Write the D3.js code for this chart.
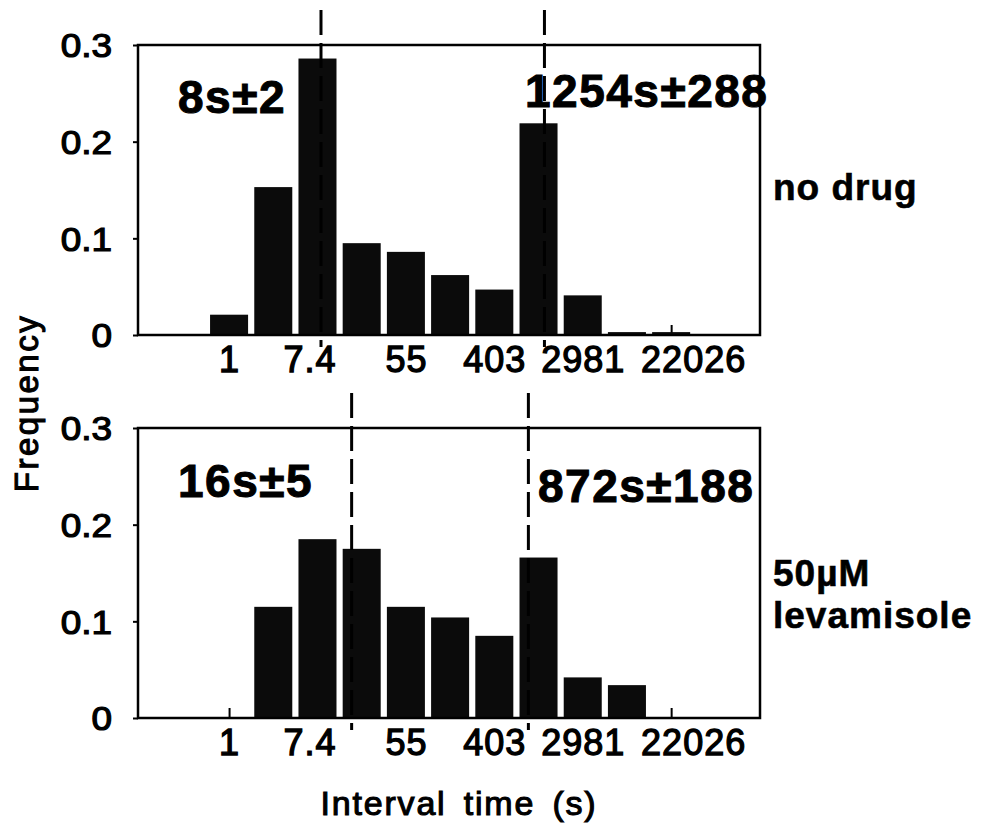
<!DOCTYPE html>
<html>
<head>
<meta charset="utf-8">
<script src="https://cdn.jsdelivr.net/npm/d3@7"></script>
<style>
  body { margin: 0; background: #fff; }
  svg { display: block; font-family: "Liberation Sans", Arial, Helvetica, sans-serif; }
</style>
</head>
<body>
<div id="chart-area"></div>
<script>
// histogram bins in natural-log units (bin k is centred on e^k seconds)
const bins = [0, 1, 2, 3, 4, 5, 6, 7, 8, 9, 10]
const noDrug = [0.021, 0.153, 0.286, 0.095, 0.086, 0.062, 0.047, 0.219, 0.041, 0.003, 0.003]
const levamisole = [0, 0.115, 0.185, 0.175, 0.115, 0.104, 0.085, 0.166, 0.042, 0.034, 0]

// mean interval of the two populations (s)
const noDrugMeans = [8, 1254]
const levamisoleMeans = [16, 872]
const noDrugNotes = ["8s±2", "1254s±288"]
const levamisoleNotes = ["16s±5", "872s±188"]

const xTickValues = [1, 7.389, 54.6, 403.4, 2981, 22026]
const xTickLabels = ["1", "7.4", "55", "403", "2981", "22026"]
const yTickValues = [0, 0.1, 0.2, 0.3]
const yTickLabels = ["0", "0.1", "0.2", "0.3"]

const WIDTH = 989, HEIGHT = 836
const LEFT = 138, RIGHT = 760, PANEL_H = 290

const svg = d3.select("#chart-area").append("svg")
  .attr("width", WIDTH)
  .attr("height", HEIGHT)

const x = d3.scaleLog()
  .base(Math.E)
  .domain([Math.exp(-2.06), Math.exp(12.01)])
  .range([LEFT, RIGHT])

const y = d3.scaleLinear()
  .domain([0, 0.3])
  .range([PANEL_H, 0])

function drawPanel(top, values, means, notes, notePos, side) {
  const g = svg.append("g").attr("transform", `translate(0, ${top})`)

  // x axis: small inner ticks + labels under the frame
  const xAxisCall = d3.axisBottom(x)
    .tickValues(xTickValues)
    .tickFormat((d, i) => xTickLabels[i])
    .tickSizeInner(-10)
    .tickSizeOuter(0)
    .tickPadding(11)
  const xg = g.append("g")
    .attr("transform", `translate(0, ${PANEL_H})`)
    .call(xAxisCall)
  xg.select(".domain").remove()
  xg.selectAll("line").attr("stroke", "#000").attr("stroke-width", 2)
  xg.selectAll("text")
    .attr("font-size", 36)
    .attr("font-family", null)
    .attr("fill", "#000")
    .attr("stroke", "#000")
    .attr("stroke-width", 1.3)
    .attr("letter-spacing", 1)
    .attr("dx", (d, i) => i === 5 ? 22 : (i === 1 ? -8 : 0))

  // y axis
  const yAxisCall = d3.axisLeft(y)
    .tickValues(yTickValues)
    .tickFormat((d, i) => yTickLabels[i])
    .tickSize(5)
    .tickSizeOuter(0)
  const yg = g.append("g")
    .attr("transform", `translate(${LEFT}, 0)`)
    .call(yAxisCall)
  yg.select(".domain").remove()
  yg.selectAll("line").attr("stroke", "#000").attr("stroke-width", 2)
  yg.selectAll("text")
    .attr("x", 0)
    .attr("dy", "0.36em")
    .attr("transform", "translate(-26, 0) scale(1.12, 1)")
    .attr("font-size", 33)
    .attr("font-family", null)
    .attr("fill", "#000")
    .attr("stroke", "#000")
    .attr("stroke-width", 1.2)

  // bars
  const rows = bins.map((k, i) => ({ k: k, v: values[i] })).filter(d => d.v > 0)
  g.selectAll("rect.bar")
    .data(rows)
    .enter().append("rect")
    .attr("class", "bar")
    .attr("x", d => x(Math.exp(d.k - 0.43)))
    .attr("width", d => x(Math.exp(d.k + 0.43)) - x(Math.exp(d.k - 0.43)))
    .attr("y", d => y(d.v))
    .attr("height", d => PANEL_H - y(d.v))
    .attr("fill", "#0b0b0b")

  // frame
  g.append("rect")
    .attr("x", LEFT)
    .attr("y", 0)
    .attr("width", RIGHT - LEFT)
    .attr("height", PANEL_H)
    .attr("fill", "none")
    .attr("stroke", "#000")
    .attr("stroke-width", 2.5)

  // dashed lines at the means
  g.selectAll("line.mean")
    .data(means)
    .enter().append("line")
    .attr("class", "mean")
    .attr("x1", d => x(d))
    .attr("x2", d => x(d))
    .attr("y1", -35)
    .attr("y2", PANEL_H + 12)
    .attr("stroke", "#000")
    .attr("stroke-width", 3)
    .attr("stroke-dasharray", "25,8")

  // mean +- sd notes
  notes.forEach((t, i) => {
    g.append("text")
      .attr("x", notePos[i][0])
      .attr("y", notePos[i][1])
      .attr("font-size", 46)
      .attr("font-weight", "bold")
      .attr("letter-spacing", 1.5)
      .attr("fill", "#000")
      .attr("stroke", "#000")
      .attr("stroke-width", 1)
      .text(t)
  })

  // condition label on the right
  side.lines.forEach((t, i) => {
    g.append("text")
      .attr("x", 773)
      .attr("y", side.y + i * 42)
      .attr("font-size", 37)
      .attr("font-weight", "bold")
      .attr("letter-spacing", 1)
      .attr("fill", "#000")
      .attr("stroke", "#000")
      .attr("stroke-width", 0.6)
      .text(t)
  })
}

drawPanel(45, noDrug, noDrugMeans, noDrugNotes, [[178, 68], [525, 62]],
  { lines: ["no drug"], y: 155 })
drawPanel(428, levamisole, levamisoleMeans, levamisoleNotes, [[178, 69], [538, 74]],
  { lines: ["50µM", "levamisole"], y: 158 })

// Y label
svg.append("text")
  .attr("transform", "translate(38, 403) rotate(-90)")
  .attr("text-anchor", "middle")
  .attr("font-size", 33)
  .attr("letter-spacing", 2.5)
  .attr("stroke", "#000")
  .attr("stroke-width", 1.1)
  .text("Frequency")

// X label
svg.append("text")
  .attr("x", 459)
  .attr("y", 815)
  .attr("text-anchor", "middle")
  .attr("font-size", 34)
  .attr("letter-spacing", 1.8)
  .attr("word-spacing", 6)
  .attr("stroke", "#000")
  .attr("stroke-width", 1.1)
  .text("Interval time (s)")
</script>
</body>
</html>
